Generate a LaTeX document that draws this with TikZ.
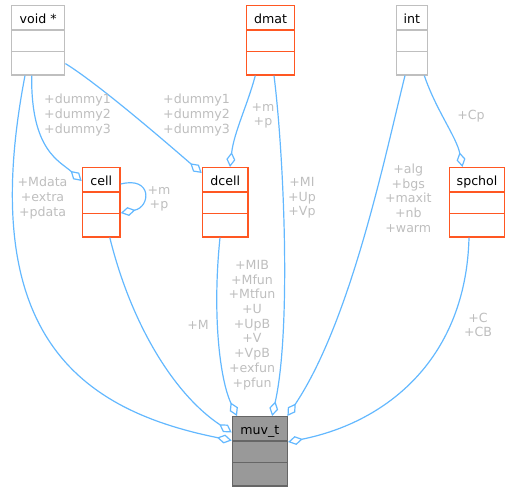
\documentclass[tikz,border=0pt]{standalone}
\usepackage{fontspec}
\setmainfont{DejaVu Sans}
\usetikzlibrary{arrows.meta,shapes.multipart}
\definecolor{edgeblue}{HTML}{63B8FF}
\definecolor{lblgray}{HTML}{BEBEBE}
\definecolor{boxgray}{HTML}{BFBFBF}
\definecolor{boxorange}{HTML}{FF5722}
\definecolor{mainfill}{HTML}{999999}
\definecolor{mainline}{HTML}{666666}
\newcommand{\umltitle}[1]{\rule[-6.3pt]{0pt}{23pt}#1\nodepart{two}\rule{0pt}{20pt}\nodepart{three}\rule{0pt}{22pt}}

\begin{document}
\begin{tikzpicture}[x=1pt, y=-1pt]
        \tikzset{cls/.style={rectangle split, rectangle split parts=3, draw, line width=1.4pt, inner sep=0pt, anchor=north west, font=\fontsize{12.6pt}{14.7pt}\selectfont},
                 extcls/.style={cls, draw=boxgray},
                 doccls/.style={cls, draw=boxorange},
                 maincls/.style={cls, draw=mainline, fill=mainfill},
                 member/.style={-{Diamond[open, length=15pt, width=9pt]}, edgeblue, line width=1.2pt},
                 role/.style={text=lblgray, align=center, inner sep=0pt, font=\fontsize{12.6pt}{14.7pt}\selectfont}}
        \useasboundingbox (0,0) rectangle (510,487);
        \node[extcls, minimum width=53pt] (voidp) at (11,5) {\umltitle{void *}};
        \node[doccls, minimum width=48.3pt] (dmat) at (245.7,5) {\umltitle{dmat}};
        \node[extcls, minimum width=31pt] (int) at (395.7,5) {\umltitle{int}};
        \node[doccls, minimum width=37.7pt] (cell) at (81.7,167) {\umltitle{cell}};
        \node[doccls, minimum width=45.7pt] (dcell) at (201.7,167) {\umltitle{dcell}};
        \node[doccls, minimum width=55.3pt] (spchol) at (448.7,167) {\umltitle{spchol}};
        \node[maincls, minimum width=55pt] (muvt) at (231.7,416) {\umltitle{muv\_t}};
        \draw[member] ([xshift=20.7pt]voidp.south west) .. controls +(-1,75) and +(-22,-20) .. ([yshift=-14pt]cell.north west);
        \draw[member] ([yshift=12pt]voidp.south east) .. controls +(36,22) and +(-20,-17) .. ([yshift=-6pt]dcell.north west);
        \draw[member] ([xshift=9.6pt]dmat.south west) .. controls +(-8,30) and +(4,-35) .. ([xshift=28.3pt]dcell.north west);
        \draw[member] ([yshift=-17pt]cell.north east) .. controls +(31.6,-8) and +(30,-6) .. ([yshift=-46pt]cell.north east);
        \draw[member] ([xshift=14pt]voidp.south west) .. controls +(-50,260) and +(-151.7,-30.5) .. ([yshift=-24.5pt]muvt.north west);
        \draw[member] ([xshift=-11pt]cell.south east) .. controls +(21.7,88) and +(-56.7,-37.5) .. ([yshift=-16.5pt]muvt.north west);
        \draw[member] ([xshift=18.3pt]dcell.south west) .. controls +(-8,78) and +(-17,-36) .. ([xshift=5.3pt]muvt.north west);
        \draw[member] ([xshift=28.3pt]dmat.south west) .. controls +(10,80) and +(19.3,-86) .. ([xshift=-16pt]muvt.north east);
        \draw[member] ([xshift=9.3pt]int.south west) .. controls +(-20,80) and +(64,-96) .. ([xshift=-0.7pt]muvt.north east);
        \draw[member] ([xshift=28.6pt]int.south west) .. controls +(12,35) and +(-6,-30) .. ([xshift=13.8pt]spchol.north west);
        \draw[member] ([xshift=20.3pt]spchol.south west) .. controls +(-3,120) and +(100,-20) .. ([yshift=-26pt]muvt.north east);
        \node[role] (l-cell) at (77.5,115) {+dummy1\\+dummy2\\+dummy3};
        \node[role] (l-dcell) at (196.5,115) {+dummy1\\+dummy2\\+dummy3};
        \node[role] (l-dmat) at (263,116) {+m\\+p};
        \node[role] (l-self) at (159,199) {+m\\+p};
        \node[role] (l-void) at (42.5,198) {+Mdata\\+extra\\+pdata};
        \node[role] (l-m) at (198,325) {+M};
        \node[role] (l-fun) at (252,325) {+MIB\\+Mfun\\+Mtfun\\+U\\+UpB\\+V\\+VpB\\+exfun\\+pfun};
        \node[role] (l-mi) at (302,198) {+MI\\+Up\\+Vp};
        \node[role] (l-int) at (408.3,198) {+alg\\+bgs\\+maxit\\+nb\\+warm};
        \node[role] (l-cp) at (471,116) {+Cp};
        \node[role] (l-c) at (478,325) {+C\\+CB};
\end{tikzpicture}
\end{document}
